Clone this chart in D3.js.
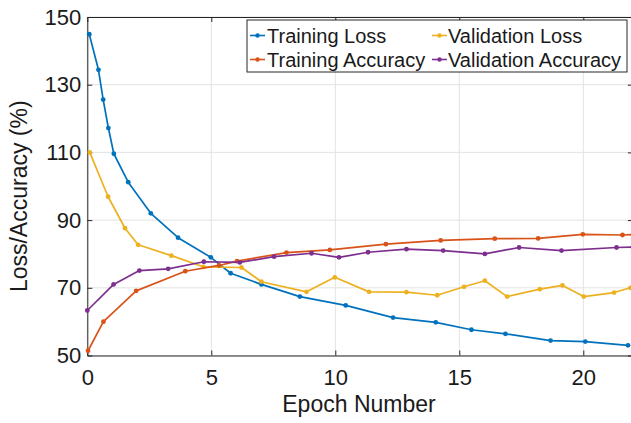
<!DOCTYPE html>
<html>
<head>
<meta charset="utf-8">
<script src="https://cdn.jsdelivr.net/npm/d3@7"></script>
<style>
  html, body { margin: 0; padding: 0; background: #fff; }
  svg { display: block; }
  text { font-family: "Liberation Sans", Arial, Helvetica, sans-serif; fill: #1a1a1a; }
</style>
</head>
<body>
<svg id="chart" width="631" height="423"></svg>
<script>
// ---- data ----
const trainLossEpochs = [0.08, 0.45, 0.64, 0.85, 1.07, 1.65, 2.56, 3.66, 4.98, 5.78, 7.02, 8.57, 10.42, 12.33, 14.05, 15.49, 16.86, 18.68, 20.08, 21.8];
const trainLoss       = [144.9, 134.4, 125.6, 117.2, 109.6, 101.2, 92.0, 84.8, 79.0, 74.3, 71.0, 67.4, 64.8, 61.2, 59.8, 57.6, 56.4, 54.4, 54.1, 53.0];

const valLossEpochs = [0.1, 0.84, 1.52, 2.05, 3.39, 4.68, 6.22, 7.02, 8.84, 9.98, 11.36, 12.87, 14.11, 15.19, 16.03, 16.93, 18.25, 19.16, 20.02, 21.24, 21.9];
const valLoss       = [110.0, 96.9, 87.6, 82.7, 79.5, 76.2, 76.0, 71.8, 68.8, 73.1, 68.8, 68.7, 67.8, 70.3, 72.1, 67.4, 69.6, 70.7, 67.4, 68.6, 70.0];

const trainAccEpochs = [0.03, 0.65, 1.97, 3.95, 5.31, 6.04, 8.03, 9.78, 12.04, 14.25, 16.43, 18.18, 19.98, 21.58, 22];
const trainAcc       = [51.4, 60.0, 69.1, 74.9, 76.6, 77.9, 80.4, 81.2, 82.9, 84.0, 84.5, 84.6, 85.8, 85.6, 85.7];

const valAccEpochs = [0.0, 1.06, 2.1, 3.26, 4.7, 6.15, 7.53, 9.04, 10.15, 11.32, 12.87, 14.35, 16.03, 17.41, 19.12, 21.34, 22];
const valAcc       = [63.3, 71.0, 75.1, 75.6, 77.7, 77.5, 79.2, 80.2, 79.0, 80.5, 81.4, 81.0, 80.0, 81.9, 81.0, 81.9, 82.0];

const seriesNames  = ["Training Loss", "Validation Loss", "Training Accuracy", "Validation Accuracy"];
const seriesColors = ["#0072BD", "#EDB120", "#D95319", "#7E2F8E"];

const xTicks = [0, 5, 10, 15, 20];
const yTicks = [50, 70, 90, 110, 130, 150];
const xLabel = "Epoch Number";
const yLabel = "Loss/Accuracy (%)";

// ---- layout ----
const pLeft = 87.3, pTop = 17, pBottom = 355.5;
const pRight = pLeft + 22 * 24.8;
const svg = d3.select("#chart");

const x = d3.scaleLinear().domain([0, 22]).range([pLeft, pRight]);
const y = d3.scaleLinear().domain([50, 150]).range([pBottom, pTop]);

const series = [
  { name: seriesNames[0], color: seriesColors[0], xs: trainLossEpochs, ys: trainLoss },
  { name: seriesNames[1], color: seriesColors[1], xs: valLossEpochs, ys: valLoss },
  { name: seriesNames[2], color: seriesColors[2], xs: trainAccEpochs, ys: trainAcc },
  { name: seriesNames[3], color: seriesColors[3], xs: valAccEpochs, ys: valAcc }
];

// grid
const grid = svg.append("g");
grid.selectAll("line.gx").data(xTicks).join("line")
  .attr("x1", d => x(d)).attr("x2", d => x(d)).attr("y1", pTop).attr("y2", pBottom)
  .attr("stroke", "#e3e3e3").attr("stroke-width", 1);
grid.selectAll("line.gy").data(yTicks).join("line")
  .attr("y1", d => y(d)).attr("y2", d => y(d)).attr("x1", pLeft).attr("x2", pRight)
  .attr("stroke", "#e3e3e3").attr("stroke-width", 1);

// axes
const fontSize = 22;
const xAxis = d3.axisBottom(x).tickValues(xTicks).tickSizeInner(-5).tickSizeOuter(0).tickPadding(14).tickFormat(d3.format("d"));
const yAxis = d3.axisLeft(y).tickValues(yTicks).tickSizeInner(-5).tickSizeOuter(0).tickPadding(6).tickFormat(d3.format("d"));
const xTop = d3.axisTop(x).tickValues(xTicks).tickSizeInner(-5).tickSizeOuter(0).tickFormat("");
const yRight = d3.axisRight(y).tickValues(yTicks).tickSizeInner(-5).tickSizeOuter(0).tickFormat("");

function styleAxis(g) {
  g.select(".domain").attr("stroke", "#262626").attr("stroke-width", 1);
  g.selectAll(".tick line").attr("stroke", "#262626").attr("stroke-width", 1);
  g.selectAll(".tick text").attr("font-size", fontSize).attr("fill", "#1a1a1a")
    .attr("font-family", "Liberation Sans, Arial, Helvetica, sans-serif");
}
svg.append("g").attr("transform", `translate(0,${pBottom})`).call(xAxis).call(styleAxis);
svg.append("g").attr("transform", `translate(${pLeft},0)`).call(yAxis).call(styleAxis);
svg.append("g").attr("transform", `translate(0,${pTop})`).call(xTop).call(styleAxis);
svg.append("g").attr("transform", `translate(${pRight},0)`).call(yRight).call(styleAxis);

// axis labels
svg.append("text").attr("x", 359).attr("y", 412)
  .attr("text-anchor", "middle").attr("font-size", 23).text(xLabel);
svg.append("text").attr("transform", `translate(27,${(pTop + pBottom) / 2 + 10}) rotate(-90)`)
  .attr("text-anchor", "middle").attr("font-size", 23).text(yLabel);

// lines + markers
const plot = svg.append("g");
series.forEach(s => {
  const pts = s.xs.map((v, i) => [v, s.ys[i]]);
  plot.append("path").datum(pts)
    .attr("fill", "none").attr("stroke", s.color).attr("stroke-width", 1.7)
    .attr("stroke-linejoin", "round")
    .attr("d", d3.line().x(d => x(d[0])).y(d => y(d[1])));
  plot.selectAll(null).data(pts).join("circle")
    .attr("cx", d => x(d[0])).attr("cy", d => y(d[1])).attr("r", 2.4)
    .attr("fill", s.color);
});

// legend
const lg = svg.append("g");
lg.append("rect").attr("x", 247).attr("y", 20).attr("width", 380).attr("height", 52)
  .attr("fill", "#fff").attr("stroke", "#262626").attr("stroke-width", 1);
const legendPos = [
  { lx: 250, tx: 267, cy: 35.5 },
  { lx: 432, tx: 448, cy: 35.5 },
  { lx: 250, tx: 267, cy: 59.5 },
  { lx: 432, tx: 448, cy: 59.5 }
];
series.forEach((s, i) => {
  const p = legendPos[i];
  lg.append("line").attr("x1", p.lx).attr("x2", p.lx + 15).attr("y1", p.cy).attr("y2", p.cy)
    .attr("stroke", s.color).attr("stroke-width", 1.6);
  lg.append("circle").attr("cx", p.lx + 7.5).attr("cy", p.cy).attr("r", 2.2).attr("fill", s.color);
  lg.append("text").attr("x", p.tx).attr("y", p.cy).attr("dy", "0.35em")
    .attr("font-size", 20).text(s.name);
});
</script>
</body>
</html>
